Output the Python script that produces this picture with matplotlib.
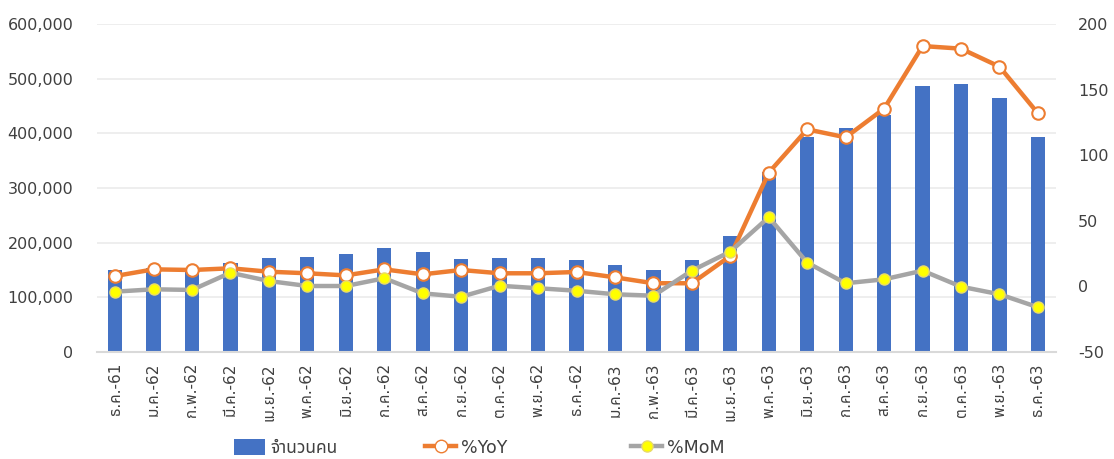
import matplotlib
matplotlib.use("Agg")
import matplotlib.pyplot as plt
from matplotlib import font_manager as fm
from matplotlib.ft2font import FT2Font
from matplotlib.ticker import FuncFormatter, MultipleLocator
from matplotlib.lines import Line2D
from matplotlib.patches import Patch

months = ["ธ.ค.-61", "ม.ค.-62", "ก.พ.-62", "มี.ค.-62", "เม.ย.-62", "พ.ค.-62", "มิ.ย.-62",
          "ก.ค.-62", "ส.ค.-62", "ก.ย.-62", "ต.ค.-62", "พ.ย.-62", "ธ.ค.-62", "ม.ค.-63",
          "ก.พ.-63", "มี.ค.-63", "เม.ย.-63", "พ.ค.-63", "มิ.ย.-63", "ก.ค.-63", "ส.ค.-63",
          "ก.ย.-63", "ต.ค.-63", "พ.ย.-63", "ธ.ค.-63"]
persons = [150000, 153000, 148000, 163000, 172000, 174000, 179000, 190000, 183000, 170000,
           172000, 172000, 168000, 160000, 150000, 168000, 213000, 330000, 394000, 409000,
           433000, 487000, 491000, 465000, 394000]
yoy = [7.9, 13.0, 12.5, 13.8, 11.2, 10.0, 8.4, 13.0, 9.2, 12.5, 10.0, 10.0, 11.0, 6.9,
       2.4, 2.4, 23.2, 86.7, 119.7, 113.6, 135.5, 183.2, 181.2, 167.5, 131.9]
mom = [-4.0, -2.2, -2.7, 10.4, 4.1, 0.3, 0.3, 6.2, -5.3, -7.9, 0.5, -1.4, -3.3, -6.0,
       -7.1, 12.0, 26.5, 52.7, 18.1, 2.4, 5.4, 12.0, -0.2, -6.0, -15.9]
series_names = ["จำนวนคน", "%YoY", "%MoM"]

# find a font that covers Thai (prefer loopless sans)
thai_fonts = set()
for f in fm.fontManager.ttflist:
    try:
        cmap = FT2Font(f.fname).get_charmap()
        if 0x0E08 in cmap and 0x0E33 in cmap and 0x0E19 in cmap:
            thai_fonts.add(f.name)
    except Exception:
        pass
pref = ["Noto Sans Thai", "IBM Plex Sans Thai", "Anuphan", "Sarabun", "Kanit"]
thai = next((p for p in pref if p in thai_fonts), sorted(thai_fonts)[0] if thai_fonts else None)
fam = ["DejaVu Sans"] + ([thai] if thai else [])
plt.rcParams["font.family"] = fam
plt.rcParams["axes.unicode_minus"] = False

W, H = 1114, 459
fig = plt.figure(figsize=(W / 100, H / 100), dpi=100)
ax = fig.add_axes([97 / W, 1 - 352 / H, (1056 - 97) / W, (352 - 24) / H])
ax2 = ax.twinx()

x = list(range(len(months)))
ax.bar(x, persons, width=0.37, color="#4472C4", zorder=2)
ax.set_ylim(0, 600000)
ax.set_xlim(-0.47, len(months) - 0.53)
ax.yaxis.set_major_locator(MultipleLocator(100000))
ax.yaxis.set_major_formatter(FuncFormatter(lambda v, p: f"{int(v):,}"))
ax.grid(axis="y", color="#EBEBEB", linewidth=1.2, zorder=0)
ax.set_axisbelow(True)

ax2.plot(x, yoy, color="#ED7D31", linewidth=3.2, marker="o", markersize=9,
         markerfacecolor="white", markeredgecolor="#ED7D31", markeredgewidth=1.5, zorder=3)
ax2.plot(x, mom, color="#A5A5A5", linewidth=3.2, marker="o", markersize=8,
         markerfacecolor="#FFFF00", markeredgecolor="#E8D96A", markeredgewidth=1.0, zorder=4)
ax2.set_ylim(-50, 200)
ax2.yaxis.set_major_locator(MultipleLocator(50))

for a in (ax, ax2):
    for s in a.spines.values():
        s.set_visible(False)
    a.tick_params(length=0, colors="#404040", labelsize=11.5)
ax.spines["bottom"].set_visible(True)
ax.spines["bottom"].set_color("#D9D9D9")
ax.spines["bottom"].set_linewidth(1.5)
ax.tick_params(axis="y", pad=17)
ax2.tick_params(axis="y", pad=16)

ax.set_xticks(x)
ax.set_xticklabels(months, rotation=90, fontsize=11, color="#404040")
ax.tick_params(axis="x", pad=8)

handles = [Patch(facecolor="#4472C4"),
           Line2D([], [], color="#ED7D31", linewidth=3.2, marker="o", markersize=9,
                  markerfacecolor="white", markeredgecolor="#ED7D31"),
           Line2D([], [], color="#A5A5A5", linewidth=3.2, marker="o", markersize=8,
                  markerfacecolor="#FFFF00", markeredgecolor="#E8D96A")]
left_px = [234, 425, 631]
for h, name, lx in zip(handles, series_names, left_px):
    fig.legend([h], [name], loc="center left", bbox_to_anchor=(lx / W, 1 - 448 / H),
               frameon=False, fontsize=12.5, handlelength=1.8, handleheight=1.0,
               handletextpad=0.3, labelcolor="#404040", borderpad=0, borderaxespad=0)

fig.savefig("out.png", dpi=100)
